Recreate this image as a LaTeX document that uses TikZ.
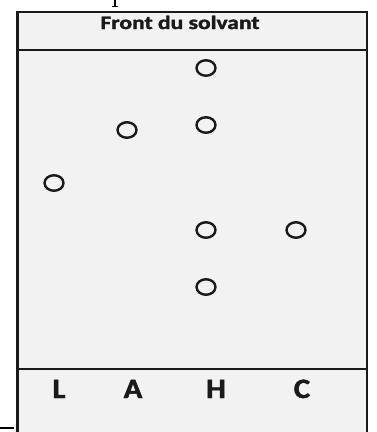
\documentclass[tikz,border=0pt]{standalone}
\usepackage{fontspec}
\setmainfont{Carlito}
\newfontfamily\heavyfont[BoldFeatures={FakeBold=1.6}]{Carlito}
\usetikzlibrary{shapes.geometric}
\definecolor{plate}{HTML}{F2F2F2}
\definecolor{ink}{HTML}{1A1A1A}
\newcommand{\wide}[2]{\scalebox{#1}[1]{#2}}
\begin{document}
\begin{tikzpicture}[
  x=1pt, y=-1pt,
  spot/.style={draw=ink, ellipse, line width=2.4pt, minimum width=19pt, minimum height=15.5pt, inner sep=0pt},
  lane/.style={font=\fontsize{28}{28}\heavyfont\bfseries, text=ink, anchor=base, inner sep=0pt},
  rule/.style={draw=ink, line width=2.6pt}
]
\useasboundingbox (0,0) rectangle (377,432);
% plate
\fill[plate] (17.5,12) rectangle (367,440);
\draw[rule] (17.5,440) -- (17.5,12) -- (367,12) -- (367,440);
\draw[rule] (17.5,50) -- (367,50);
\draw[rule] (17.5,369) -- (367,369);
\node[font=\fontsize{19}{19}\heavyfont\bfseries, text=ink, anchor=base, inner sep=0pt] (front) at (180,29) {\wide{1.24}{Front du solvant}};
% spots
\node[spot] (h1) at (206,68) {};
\node[spot] (h2) at (206,125) {};
\node[spot] (h3) at (206,230) {};
\node[spot] (h4) at (206,287) {};
\node[spot] (a1) at (127,130) {};
\node[spot] (l1) at (54,183) {};
\node[spot] (c1) at (296,230) {};
% lanes
\node[lane] (laneL) at (59,398) {\wide{1.1}{L}};
\node[lane] (laneA) at (133,398) {\wide{1.1}{A}};
\node[lane] (laneH) at (216,398) {\wide{1.1}{H}};
\node[lane] (laneC) at (302,398) {\wide{1.1}{C}};
% stray marks
\draw[line width=1.6pt, black] (0,428) -- (13.5,428);
\draw[line width=1.4pt, black] (115,0) -- (115,6);
\draw[line width=1pt, black] (112,6) -- (118,6);
\end{tikzpicture}
\end{document}
